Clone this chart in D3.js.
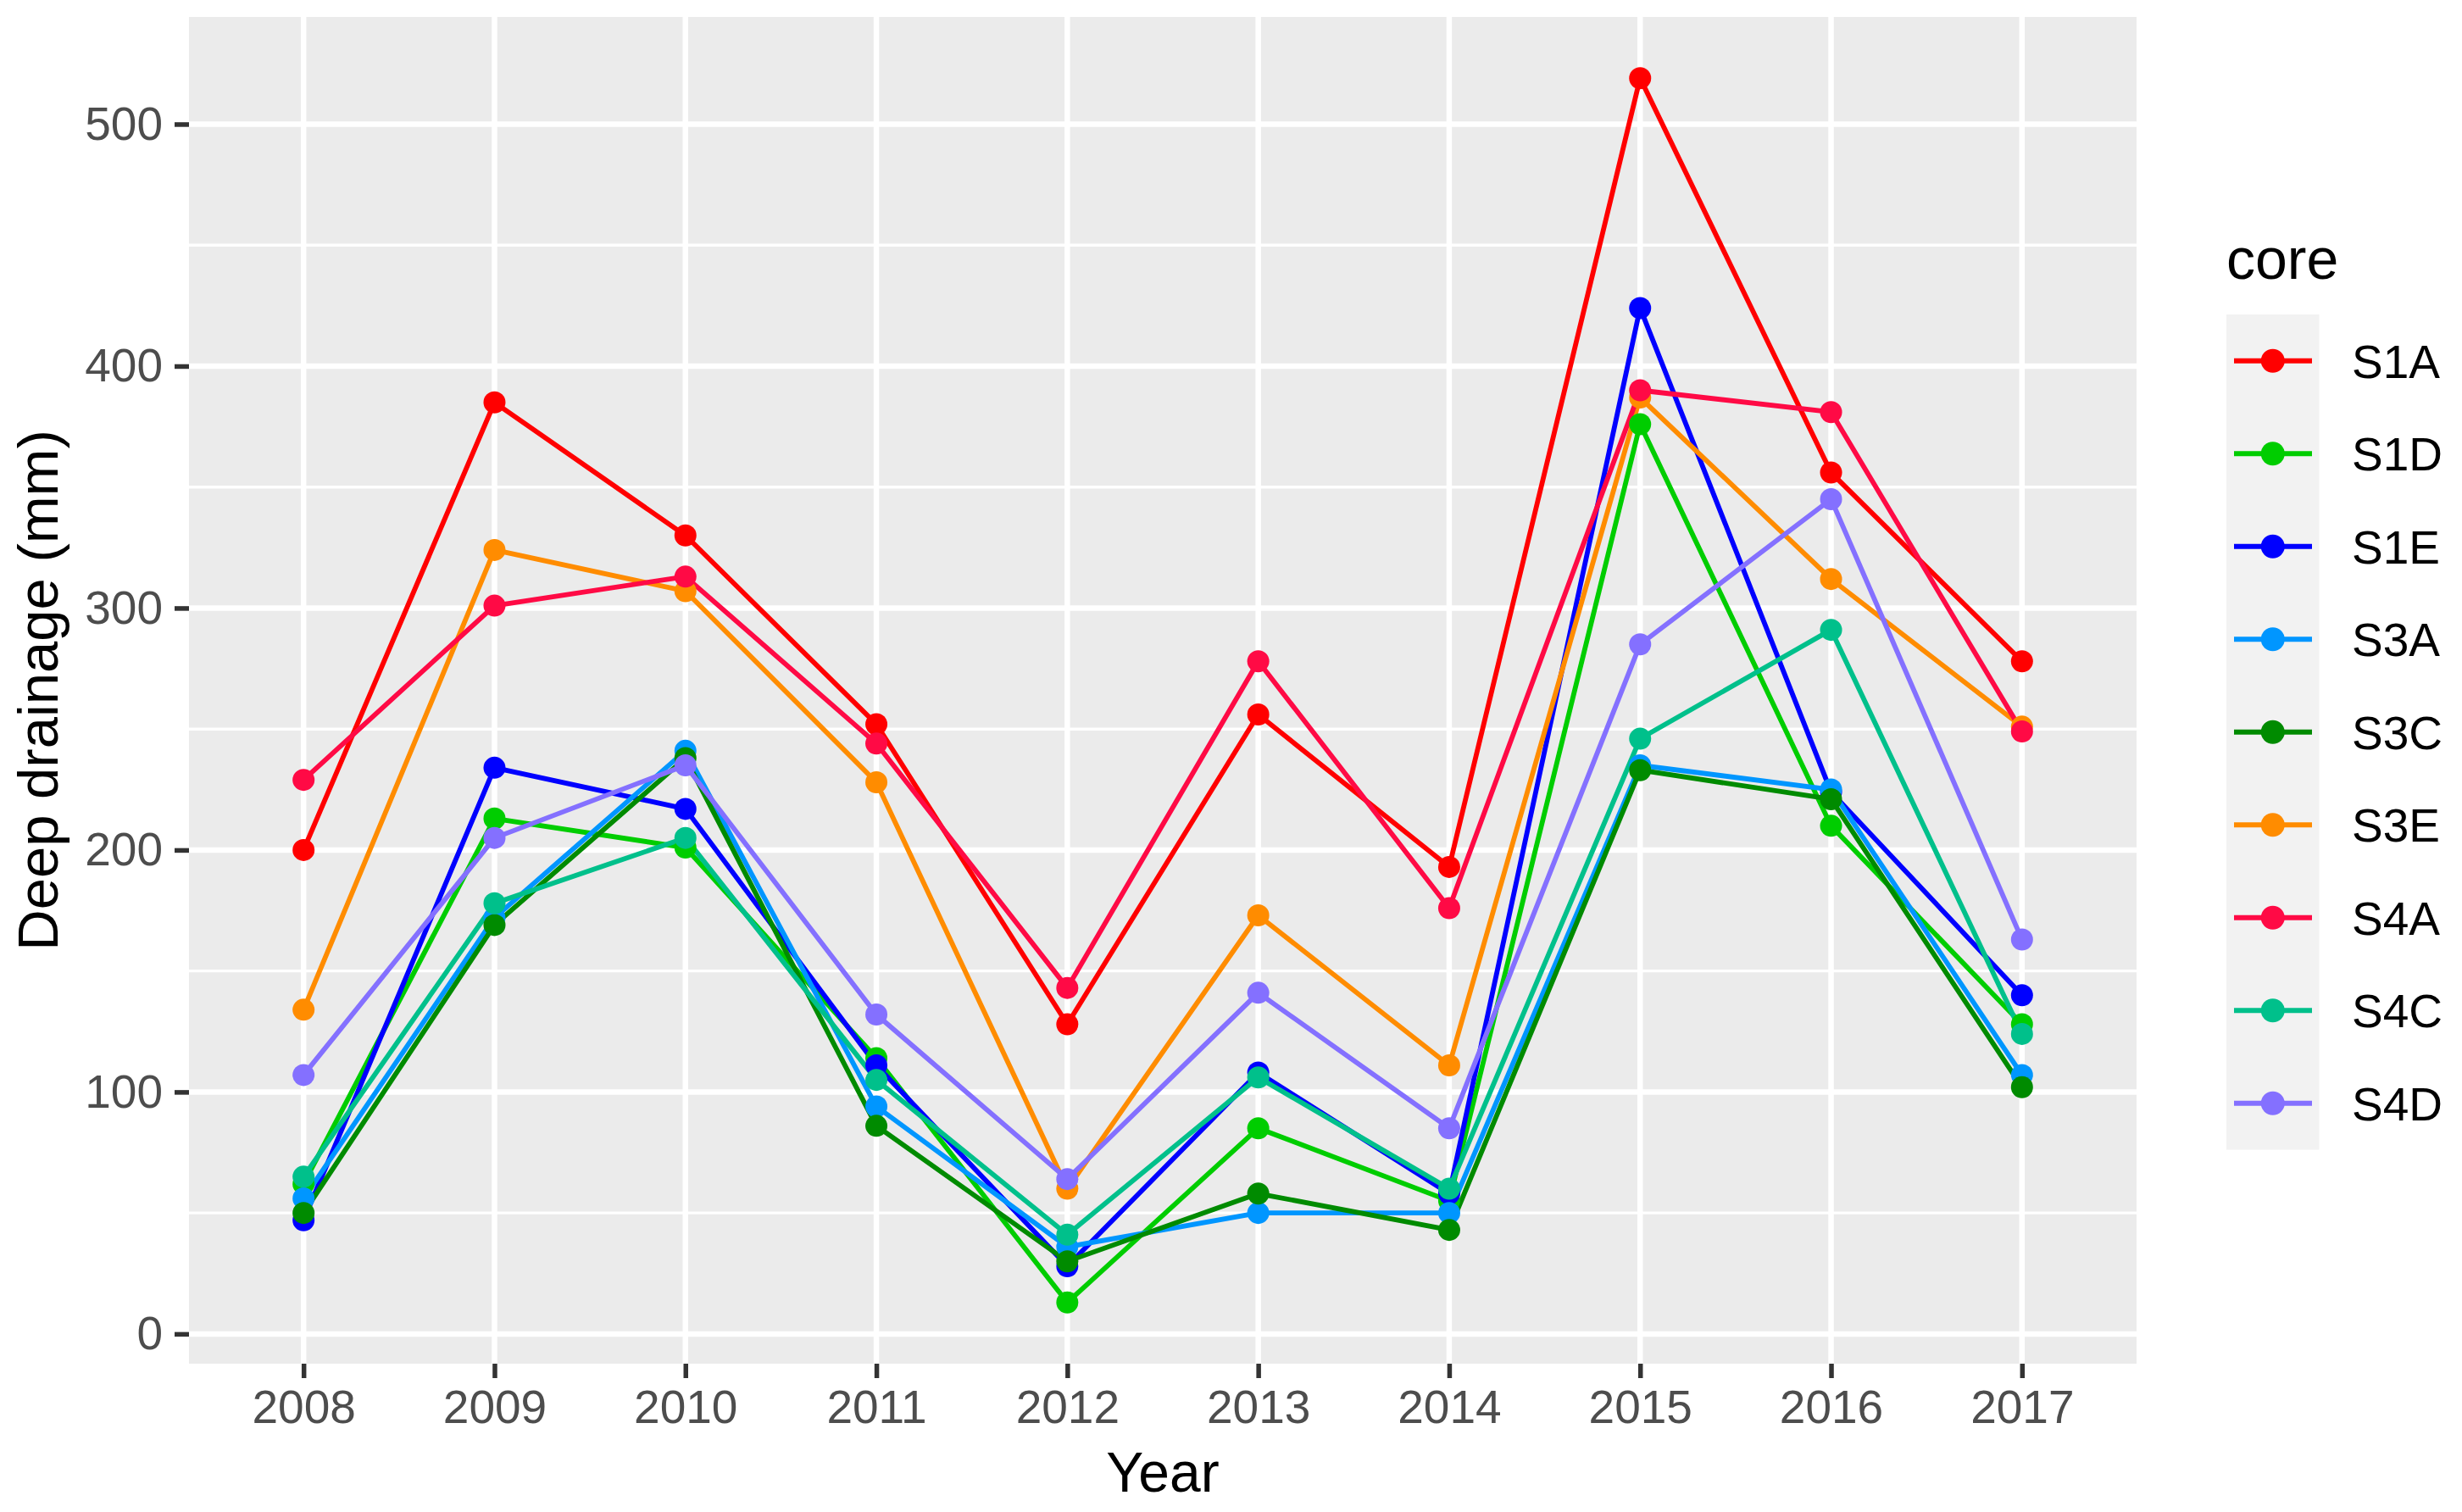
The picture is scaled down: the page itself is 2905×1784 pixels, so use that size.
<!DOCTYPE html>
<html>
<head>
<meta charset="utf-8">
<script src="https://cdn.jsdelivr.net/npm/d3@7"></script>
<style>
  html, body { margin: 0; padding: 0; background: #ffffff; }
  svg { display: block; font-family: "Liberation Sans", Arial, Helvetica, sans-serif; }
</style>
</head>
<body>
<svg id="chart" width="2905" height="1784"></svg>
<script>
// ---- data ----
const years = ["2008","2009","2010","2011","2012","2013","2014","2015","2016","2017"];
const cores = ["S1A","S1D","S1E","S3A","S3C","S3E","S4A","S4C","S4D"];
const coreColors = ["#FF0000","#00CD00","#0000FF","#0096FF","#008B00","#FF8C00","#FF0A45","#00C08B","#8470FF"];
const S1A = [200, 385, 330, 252, 128, 256, 193, 519, 356, 278];
const S1D = [62, 213, 201, 114, 13, 85, 55, 376, 210, 128];
const S1E = [47, 234, 217, 111, 28, 108, 58, 424, 224, 140];
const S3A = [56, 172, 241, 94, 36, 50, 50, 235, 225, 107];
const S3C = [50, 169, 238, 86, 30, 58, 43, 233, 221, 102];
const S3E = [134, 324, 307, 228, 60, 173, 111, 387, 312, 251];
const S4A = [229, 301, 313, 244, 143, 278, 176, 390, 381, 249];
const S4C = [65, 178, 205, 105, 41, 106, 60, 246, 291, 124];
const S4D = [107, 205, 235, 132, 64, 141, 85, 285, 345, 163];
const yTicks = [0, 100, 200, 300, 400, 500];
const yMinor = [50, 150, 250, 350, 450];
const xTitle = "Year";
const yTitle = "Deep drainage (mm)";
const legendTitle = "core";

const seriesValues = [S1A, S1D, S1E, S3A, S3C, S3E, S4A, S4C, S4D];
const series = cores.map((c, i) => ({
  core: c,
  color: coreColors[i],
  points: years.map((y, j) => ({ year: y, value: seriesValues[i][j] }))
}));

// ---- layout ----
const panel = { left: 223, right: 2521, top: 20, bottom: 1609 };
const svg = d3.select("#chart");

const allVals = seriesValues.flat();
const [vmin, vmax] = d3.extent(allVals);
const pad = (vmax - vmin) * 0.05;

const x = d3.scalePoint().domain(years).range([panel.left, panel.right]).padding(0.6);
const y = d3.scaleLinear().domain([vmin - pad, vmax + pad]).range([panel.bottom, panel.top]);

// panel background
svg.append("rect")
  .attr("x", panel.left).attr("y", panel.top)
  .attr("width", panel.right - panel.left).attr("height", panel.bottom - panel.top)
  .attr("fill", "#EBEBEB");

// grid
const grid = svg.append("g");
grid.selectAll("line.minor").data(yMinor).enter().append("line")
  .attr("x1", panel.left).attr("x2", panel.right)
  .attr("y1", d => y(d)).attr("y2", d => y(d))
  .attr("stroke", "#FFFFFF").attr("stroke-width", 3.4);
grid.selectAll("line.majory").data(yTicks).enter().append("line")
  .attr("x1", panel.left).attr("x2", panel.right)
  .attr("y1", d => y(d)).attr("y2", d => y(d))
  .attr("stroke", "#FFFFFF").attr("stroke-width", 6.5);
grid.selectAll("line.majorx").data(years).enter().append("line")
  .attr("x1", d => x(d)).attr("x2", d => x(d))
  .attr("y1", panel.top).attr("y2", panel.bottom)
  .attr("stroke", "#FFFFFF").attr("stroke-width", 6.5);

// axes
const yAxis = d3.axisLeft(y).tickValues(yTicks).tickSize(17).tickPadding(14);
const gy = svg.append("g").attr("transform", `translate(${panel.left},0)`).call(yAxis);
gy.select(".domain").remove();
gy.selectAll(".tick line").attr("stroke", "#333333").attr("stroke-width", 5.5);
gy.selectAll(".tick text").attr("fill", "#4D4D4D").attr("font-size", 55)
  .attr("font-family", "Liberation Sans, Arial, sans-serif");

const xAxis = d3.axisBottom(x).tickSize(17).tickPadding(14);
const gx = svg.append("g").attr("transform", `translate(0,${panel.bottom})`).call(xAxis);
gx.select(".domain").remove();
gx.selectAll(".tick line").attr("stroke", "#333333").attr("stroke-width", 5.5);
gx.selectAll(".tick text").attr("fill", "#4D4D4D").attr("font-size", 55)
  .attr("font-family", "Liberation Sans, Arial, sans-serif");

// axis titles
svg.append("text")
  .attr("x", (panel.left + panel.right) / 2).attr("y", 1760)
  .attr("text-anchor", "middle").attr("font-size", 66).attr("fill", "#000")
  .text(xTitle);
svg.append("text")
  .attr("transform", `translate(68,${(panel.top + panel.bottom) / 2}) rotate(-90)`)
  .attr("text-anchor", "middle").attr("font-size", 67).attr("fill", "#000")
  .text(yTitle);

// lines
const line = d3.line().x(d => x(d.year)).y(d => y(d.value));
const plot = svg.append("g");
plot.selectAll("path.series").data(series).enter().append("path")
  .attr("d", d => line(d.points))
  .attr("fill", "none").attr("stroke", d => d.color).attr("stroke-width", 5.8)
  .attr("stroke-linejoin", "round");

// points
series.forEach(s => {
  plot.append("g").selectAll("circle").data(s.points).enter().append("circle")
    .attr("cx", d => x(d.year)).attr("cy", d => y(d.value)).attr("r", 13)
    .attr("fill", s.color);
});

// legend
const leg = svg.append("g");
const legX = 2627, legTop = 371, keySize = 109.5;
leg.append("text").attr("x", legX).attr("y", 329)
  .attr("font-size", 68).attr("fill", "#000").text(legendTitle);
leg.append("rect").attr("x", legX).attr("y", legTop)
  .attr("width", keySize).attr("height", keySize * cores.length).attr("fill", "#F2F2F2");
const items = leg.selectAll("g.item").data(series).enter().append("g")
  .attr("transform", (d, i) => `translate(${legX},${legTop + i * keySize})`);
items.append("line")
  .attr("x1", 9).attr("x2", 101).attr("y1", keySize / 2).attr("y2", keySize / 2)
  .attr("stroke", d => d.color).attr("stroke-width", 5.8);
items.append("circle")
  .attr("cx", keySize / 2).attr("cy", keySize / 2).attr("r", 14)
  .attr("fill", d => d.color);
items.append("text")
  .attr("x", 148).attr("y", keySize / 2 + 20)
  .attr("font-size", 55).attr("fill", "#000")
  .text(d => d.core);
</script>
</body>
</html>
